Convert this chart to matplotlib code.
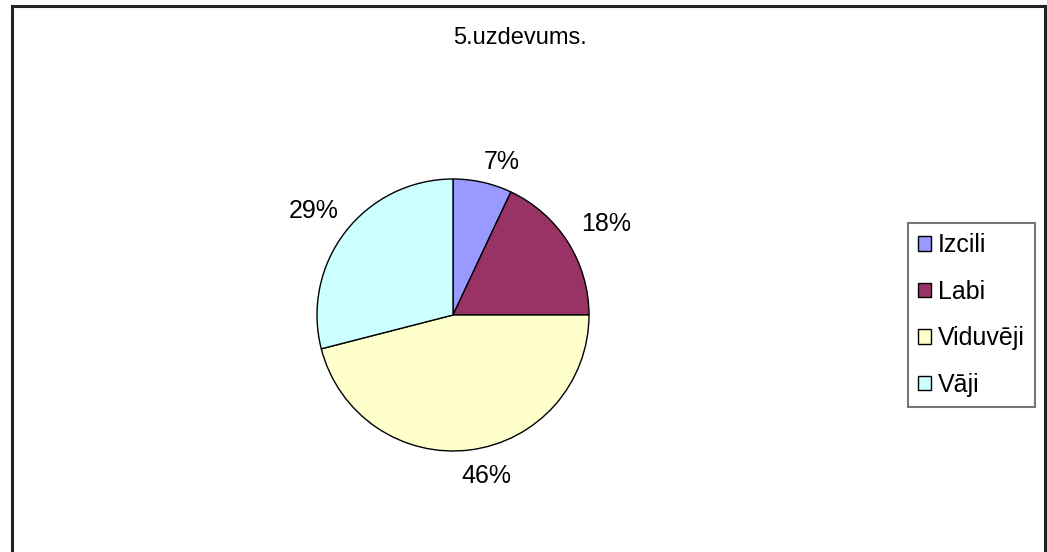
import numpy as np
import matplotlib.pyplot as plt
from matplotlib.lines import Line2D

plt.rcParams['font.family'] = ['Liberation Sans', 'DejaVu Sans']

labels = ['Izcili', 'Labi', 'Viduvēji', 'Vāji']
values = [7, 18, 46, 29]
colors = ['#9999FF', '#993366', '#FFFFCC', '#CCFFFF']

W, H = 1047, 552
fig = plt.figure(figsize=(W / 100, H / 100), dpi=100)

# outer chart frame (no bottom edge visible)
fr = dict(color='#222222', lw=2.2, transform=fig.transFigure)
fig.add_artist(Line2D([12 / W, 12 / W], [0, 1 - 6 / H], **fr))
fig.add_artist(Line2D([12 / W, 1045 / W], [1 - 6 / H, 1 - 6 / H], **fr))
fig.add_artist(Line2D([1045 / W, 1045 / W], [0, 1 - 6 / H], **fr))

cx, cy, r = 453, 315, 136
ax = fig.add_axes([(cx - r) / W, (H - cy - r) / H, 2 * r / W, 2 * r / H])
wedges, _ = ax.pie(values, colors=colors, startangle=90, counterclock=False,
                   wedgeprops=dict(edgecolor='black', linewidth=1.0))
ax.set_xlim(-1, 1)
ax.set_ylim(-1, 1)
ax.set_aspect('auto')
ax.axis('off')

# data labels just outside each slice
for w, v in zip(wedges, values):
    ang = np.deg2rad((w.theta1 + w.theta2) / 2)
    s, c = np.sin(ang), np.cos(ang)
    d = 142 + 12 * abs(s) + 34 * abs(c)
    x = d * c + (14 * s ** 2 if c >= 0 else 0)
    y = d * s - 4
    ax.text(x / r, y / r, f'{v}%', ha='center', va='center',
            fontsize=18, clip_on=False)

fig.text(520 / W, 1 - 38 / H, '5.uzdevums.', ha='center', va='center', fontsize=17)

handles = [plt.Rectangle((0, 0), 1, 1, facecolor=c, edgecolor='black', lw=1) for c in colors]
leg = fig.legend(handles, labels, loc='center right', bbox_to_anchor=(1035 / W, 1 - 315 / H),
                 fontsize=18, frameon=True, fancybox=False, handlelength=0.5, handleheight=0.5,
                 handletextpad=0.3, labelspacing=0.9, borderpad=0.4, borderaxespad=0)
leg.get_frame().set_edgecolor('#555555')
leg.get_frame().set_linewidth(1.5)

fig.savefig('out.png', dpi=100)
